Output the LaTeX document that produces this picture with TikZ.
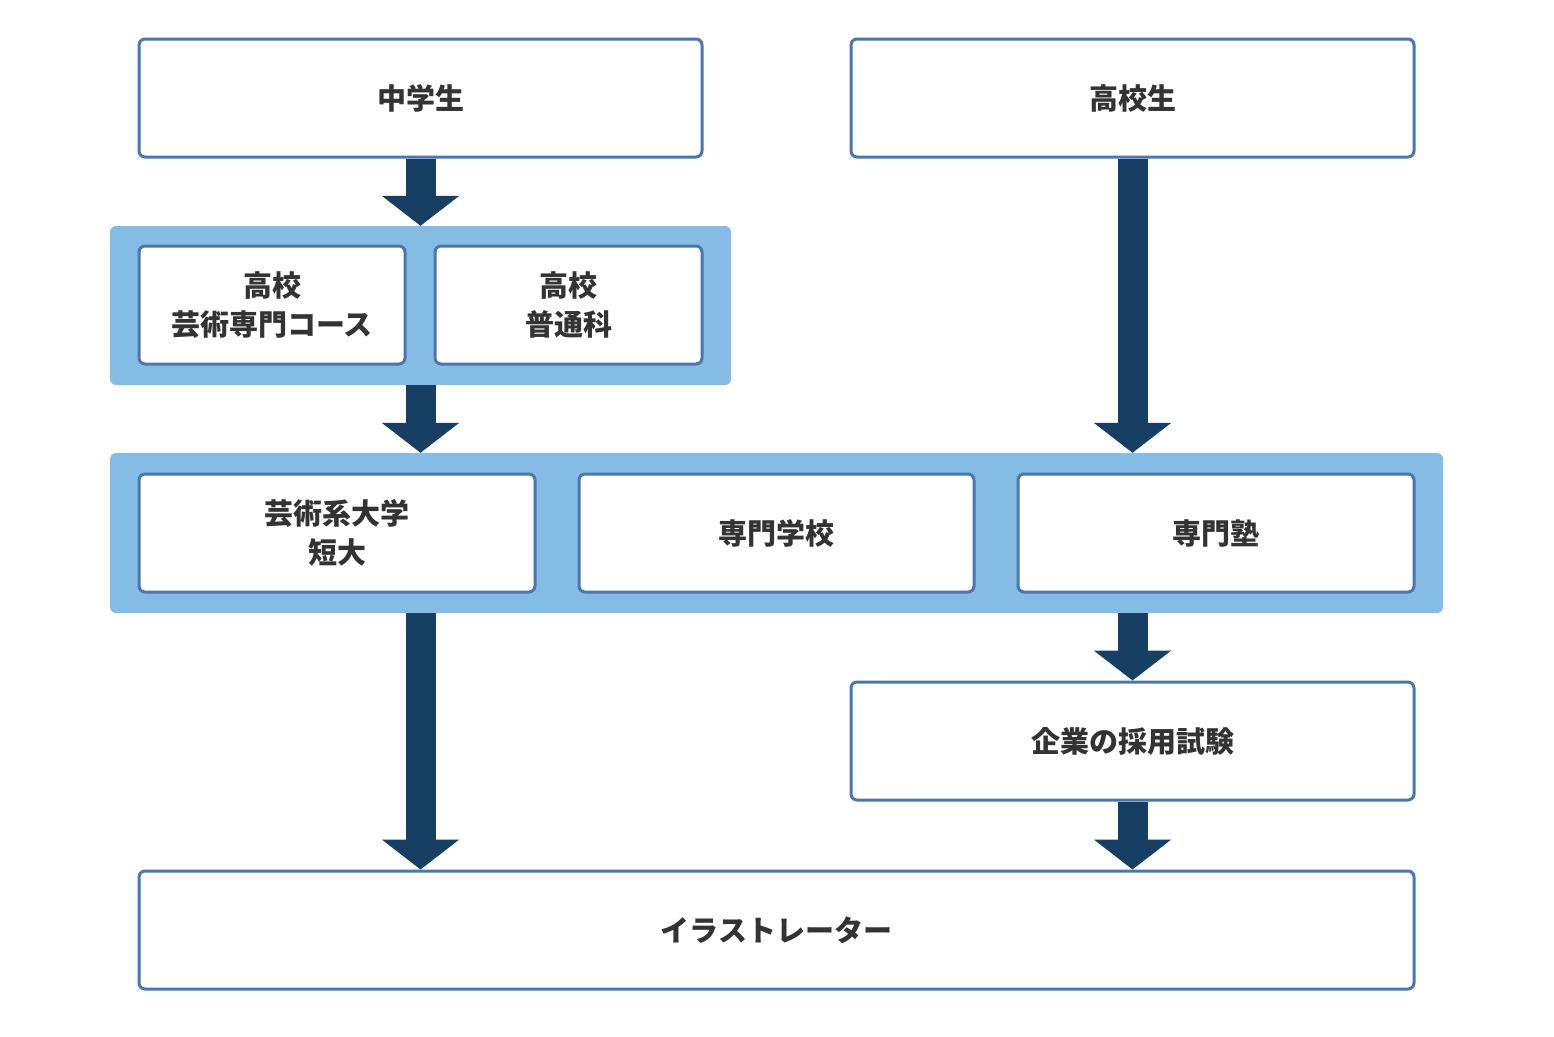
\documentclass[tikz,border=0pt]{standalone}
\usepackage{fontspec}
\newfontfamily\jp{Noto Sans CJK JP}
\usetikzlibrary{arrows.meta}
\definecolor{arr}{HTML}{163F63}
\definecolor{bd}{HTML}{4A76B0}
\definecolor{pnl}{HTML}{85BCE6}
\definecolor{tx}{HTML}{333333}
\tikzset{
 bx/.style={draw=bd,line width=3pt,fill=white,rounded corners=6pt,inner sep=0pt,align=center,
   font=\jp\bfseries\fontsize{29}{39}\selectfont,text=tx},
 pn/.style={fill=pnl,rounded corners=6pt,inner sep=0pt},
 ar/.style={draw=arr,line width=30pt,-{Triangle[width=76pt,length=30pt]}}
}
\begin{document}
\begin{tikzpicture}[x=1pt,y=-1pt]
\useasboundingbox (0,0) rectangle (1554,1036);
\node[pn,minimum width=621pt,minimum height=159pt] (p1) at (420.5,305.5) {};
\node[pn,minimum width=1333pt,minimum height=160pt] (p2) at (776.5,533) {};
\node[bx,minimum width=563pt,minimum height=118pt] (zh) at (420.5,98) {中学生};
\node[bx,minimum width=563pt,minimum height=118pt] (hs) at (1132.5,98) {高校生};
\node[bx,minimum width=266pt,minimum height=118pt] (ga) at (272,305) {高校\\芸術専門コース};
\node[bx,minimum width=267pt,minimum height=118pt] (fu) at (568.5,305) {高校\\普通科};
\node[bx,minimum width=396pt,minimum height=118pt] (dg) at (337,533) {芸術系大学\\短大};
\node[bx,minimum width=395pt,minimum height=118pt] (sg) at (776.5,533) {専門学校};
\node[bx,minimum width=396pt,minimum height=118pt] (sj) at (1216,533) {専門塾};
\node[bx,minimum width=563pt,minimum height=118pt] (ki) at (1132.5,741) {企業の採用試験};
\node[bx,minimum width=1275pt,minimum height=118pt] (il) at (776.5,930) {イラストレーター};
\draw[ar] (zh.south) -- (zh.south |- p1.north);
\draw[ar] (zh.south |- p1.south) -- (zh.south |- p2.north);
\draw[ar] (hs.south) -- (hs.south |- p2.north);
\draw[ar] (zh.south |- p2.south) -- (zh.south |- il.north);
\draw[ar] (hs.south |- p2.south) -- (ki.north);
\draw[ar] (ki.south) -- (ki.south |- il.north);
\end{tikzpicture}
\end{document}
